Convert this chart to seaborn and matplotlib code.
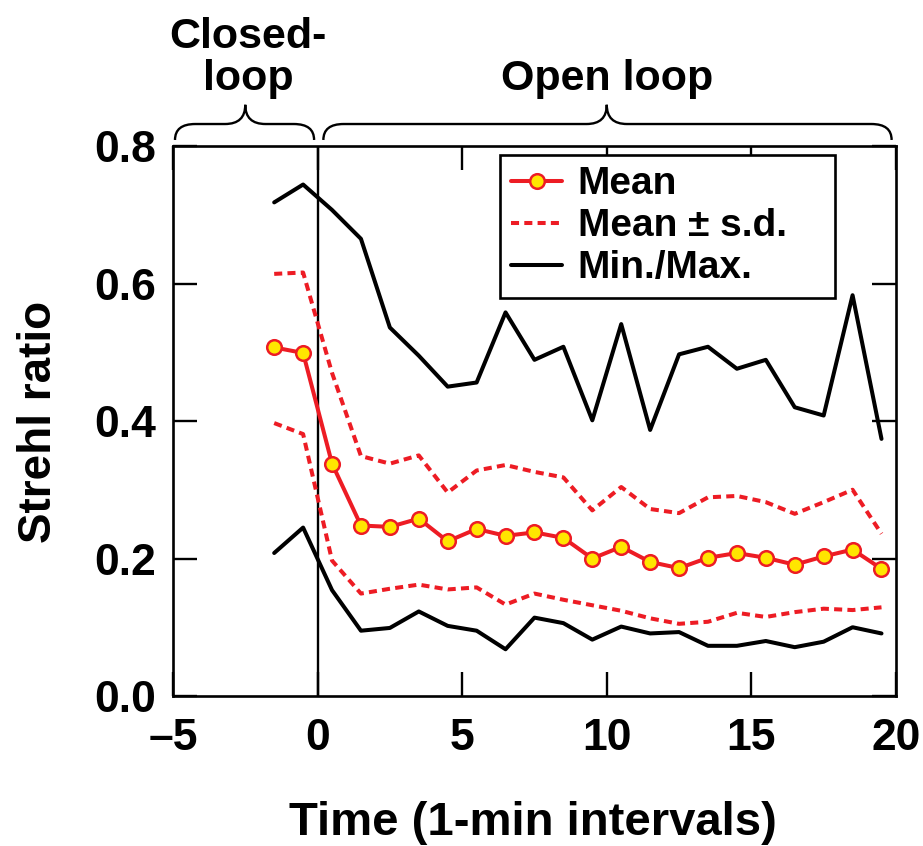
import numpy as np
import pandas as pd
import seaborn as sns
import matplotlib.pyplot as plt
from matplotlib.path import Path
from matplotlib.patches import PathPatch
from matplotlib.lines import Line2D
import matplotlib.transforms as mtransforms

# Time bins (1-min intervals, bin centres)
time = [-1.5, -0.5, 0.5, 1.5, 2.5, 3.5, 4.5, 5.5, 6.5, 7.5, 8.5,
        9.5, 10.5, 11.5, 12.5, 13.5, 14.5, 15.5, 16.5, 17.5, 18.5, 19.5]

strehl_mean = [0.507, 0.499, 0.338, 0.248, 0.246, 0.258, 0.225, 0.243, 0.233, 0.238, 0.230,
               0.200, 0.217, 0.195, 0.186, 0.201, 0.208, 0.201, 0.191, 0.203, 0.213, 0.185]
strehl_plus_sd = [0.614, 0.616, 0.470, 0.349, 0.338, 0.350, 0.296, 0.328, 0.336, 0.326, 0.318,
                  0.270, 0.304, 0.272, 0.266, 0.289, 0.291, 0.282, 0.265, 0.282, 0.300, 0.236]
strehl_minus_sd = [0.397, 0.381, 0.197, 0.149, 0.156, 0.162, 0.155, 0.158, 0.133, 0.149, 0.140,
                   0.132, 0.124, 0.113, 0.105, 0.108, 0.121, 0.115, 0.122, 0.127, 0.125, 0.129]
strehl_max = [0.718, 0.744, 0.707, 0.665, 0.536, 0.495, 0.450, 0.456, 0.558, 0.489, 0.508,
              0.401, 0.541, 0.387, 0.497, 0.508, 0.476, 0.489, 0.420, 0.408, 0.583, 0.374]
strehl_min = [0.208, 0.245, 0.154, 0.095, 0.099, 0.123, 0.102, 0.095, 0.068, 0.114, 0.106,
              0.082, 0.101, 0.091, 0.093, 0.073, 0.073, 0.080, 0.071, 0.079, 0.100, 0.091]

x_ticks = [-5, 0, 5, 10, 15, 20]
x_tick_labels = ["\u20135", "0", "5", "10", "15", "20"]
y_ticks = [0.0, 0.2, 0.4, 0.6, 0.8]
y_tick_labels = ["0.0", "0.2", "0.4", "0.6", "0.8"]

RED = "#ED1C24"
YELLOW = "#FFE600"
LW = 2.9

sns.set_theme(style="ticks")
plt.rcParams["font.family"] = ["Liberation Sans", "DejaVu Sans"]
plt.rcParams["font.weight"] = "bold"
plt.rcParams["text.color"] = "black"
plt.rcParams["axes.labelcolor"] = "black"
plt.rcParams["xtick.color"] = "black"
plt.rcParams["ytick.color"] = "black"

df = pd.DataFrame({
    "time": time,
    "mean": strehl_mean,
    "plus_sd": strehl_plus_sd,
    "minus_sd": strehl_minus_sd,
    "max": strehl_max,
    "min": strehl_min,
})

fig = plt.figure(figsize=(9.23, 8.46), dpi=100)
ax = fig.add_axes([0.1874, 0.1773, 0.7833, 0.6501])

# Min / max envelope
for col in ["max", "min"]:
    sns.lineplot(data=df, x="time", y=col, ax=ax, color="black", lw=LW,
                 legend=False, zorder=3)

# Mean +/- one standard deviation
for col in ["plus_sd", "minus_sd"]:
    sns.lineplot(data=df, x="time", y=col, ax=ax, color=RED, lw=LW,
                 dashes=False, legend=False, zorder=4)
for line in ax.lines[2:4]:
    line.set_dashes((2.0, 1.3))

# Mean with markers
sns.lineplot(data=df, x="time", y="mean", ax=ax, color=RED, lw=LW,
             marker="o", markersize=10.5, markerfacecolor=YELLOW,
             markeredgecolor=RED, markeredgewidth=1.8, legend=False, zorder=5)

# Boundary between closed- and open-loop operation
ax.axvline(0, color="black", lw=1.7, zorder=2)

ax.set_xlim(-5, 20)
ax.set_ylim(0, 0.8)
ax.set_xticks(x_ticks)
ax.set_xticklabels(x_tick_labels)
ax.set_yticks(y_ticks)
ax.set_yticklabels(y_tick_labels)
ax.tick_params(axis="both", direction="in", length=17, width=1.7,
               color="black", labelcolor="black", labelsize=32,
               top=True, right=True)
ax.tick_params(axis="x", pad=16)
ax.tick_params(axis="y", pad=12)
for lab in ax.get_xticklabels() + ax.get_yticklabels():
    lab.set_fontweight("bold")
for sp in ax.spines.values():
    sp.set_visible(True)
    sp.set_color("black")
    sp.set_linewidth(1.9)

ax.set_xlabel("Time (1-min intervals)", fontsize=34, fontweight="bold", color="black")
ax.set_ylabel("Strehl ratio", fontsize=33, fontweight="bold", color="black")
ax.xaxis.set_label_coords(0.498, -0.19)
ax.yaxis.set_label_coords(-0.155, 0.498)

# Legend
handles = [
    Line2D([], [], color=RED, lw=LW, marker="o", markersize=10.5,
           markerfacecolor=YELLOW, markeredgecolor=RED, markeredgewidth=1.8),
    Line2D([], [], color=RED, lw=LW, dashes=(2.0, 1.3)),
    Line2D([], [], color="black", lw=LW),
]
labels = ["Mean", "Mean \u00b1 s.d.", "Min./Max."]
leg = ax.legend(handles, labels, loc="upper left",
                bbox_to_anchor=(0.452, 0.724, 0.464, 0.26), mode="expand",
                borderaxespad=0, frameon=True, fancybox=False, framealpha=1,
                edgecolor="black", handlelength=1.3,
                handletextpad=0.4, labelspacing=0.15, borderpad=0.3,
                prop={"weight": "bold", "size": 28})
leg.get_frame().set_linewidth(1.9)
leg.set_zorder(10)
for t in leg.get_texts():
    t.set_color("black")


def curly_brace(ax, x0, x1, xc, yb=1.011, ym=1.04, yt=1.075, dx=0.7):
    trans = mtransforms.blended_transform_factory(ax.transData, ax.transAxes)
    verts = [
        (x0, yb), (x0, ym), (x0 + dx, ym),
        (xc - dx, ym),
        (xc, ym), (xc, yt),
        (xc, ym), (xc + dx, ym),
        (x1 - dx, ym),
        (x1, ym), (x1, yb),
    ]
    codes = [Path.MOVETO, Path.CURVE3, Path.CURVE3,
             Path.LINETO,
             Path.CURVE3, Path.CURVE3,
             Path.CURVE3, Path.CURVE3,
             Path.LINETO,
             Path.CURVE3, Path.CURVE3]
    patch = PathPatch(Path(verts, codes), transform=trans, fill=False,
                      edgecolor="black", lw=1.7, clip_on=False)
    ax.add_patch(patch)


curly_brace(ax, -4.93, -0.12, -2.5)
curly_brace(ax, 0.2, 19.85, 10.0)

trans_top = mtransforms.blended_transform_factory(ax.transData, ax.transAxes)
ax.text(-2.4, 1.102, "Closed-\nloop", transform=trans_top, ha="center",
        va="baseline", fontsize=31, fontweight="bold", linespacing=1.05,
        multialignment="center", color="black")
ax.text(10.0, 1.102, "Open loop", transform=trans_top, ha="center",
        va="baseline", fontsize=31, fontweight="bold", color="black")

fig.savefig("out.png", dpi=100)
